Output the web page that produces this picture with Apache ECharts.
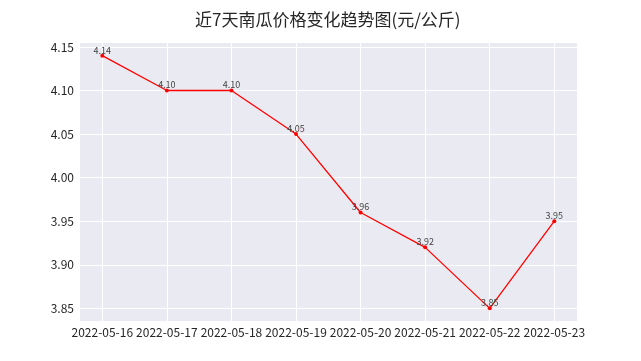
<!DOCTYPE html>
<html><head><meta charset="utf-8">
<script src="https://cdn.jsdelivr.net/npm/echarts@6/dist/echarts.min.js"></script>
<style>html,body{margin:0;padding:0;background:#fff}#c{width:641px;height:361px}</style>
</head><body><div id="c"></div>
<script>
const dates = ['2022-05-16','2022-05-17','2022-05-18','2022-05-19','2022-05-20','2022-05-21','2022-05-22','2022-05-23'];
const prices = [4.14, 4.10, 4.10, 4.05, 3.96, 3.92, 3.85, 3.95];
const yTickMin = 3.85, yTickMax = 4.15, yTickStep = 0.05;
const titleText = '近7天南瓜价格变化趋势图(元/公斤)';

const dMin = Math.min(...prices), dMax = Math.max(...prices);
const pad = (dMax - dMin) * 0.05;
const font = '"Noto Sans CJK SC", sans-serif';
const chart = echarts.init(document.getElementById('c'), null, {renderer:'canvas'});
chart.setOption({
  animation:false,
  backgroundColor:'#ffffff',
  title:{text:titleText, left:190, top:6,
    textStyle:{fontFamily:font, fontSize:17, fontWeight:'normal', color:'#262626'}},
  grid:[
    {left:80, right:64, top:43, bottom:40, show:true, backgroundColor:'#EAEAF2', borderWidth:0, z:0},
    {left:102.3, right:86.7, top:43, bottom:40},
    {left:80, right:64, top:47, bottom:52.7}
  ],
  xAxis:[
    {type:'value', gridIndex:0, show:false, min:0, max:1},
    {type:'category', gridIndex:1, data:dates, boundaryGap:false,
      axisLine:{show:false}, axisTick:{show:false},
      axisLabel:{fontFamily:font, fontSize:12, color:'#262626', margin:5, interval:0},
      splitLine:{show:true, lineStyle:{color:'#ffffff', width:1}}},
    {type:'value', gridIndex:2, show:false, min:0, max:1}
  ],
  yAxis:[
    {type:'value', gridIndex:0, show:false, min:0, max:1},
    {type:'value', gridIndex:1, show:false, min:dMin - pad, max:dMax + pad},
    {type:'value', gridIndex:2, min:yTickMin, max:yTickMax, interval:yTickStep,
      axisLine:{show:false}, axisTick:{show:false},
      axisLabel:{fontFamily:font, fontSize:12, color:'#262626', margin:6,
        formatter:v => v.toFixed(2)},
      splitLine:{show:true, lineStyle:{color:'#ffffff', width:1}}}
  ],
  series:[{
    type:'line', xAxisIndex:1, yAxisIndex:1, data:prices,
    symbol:'circle', symbolSize:4, showSymbol:true,
    itemStyle:{color:'#ff0000'}, lineStyle:{color:'#ff0000', width:1.3},
    label:{show:true, position:'top', distance:-1, fontFamily:font, fontSize:9, color:'#444444',
      formatter:p => p.value.toFixed(2)},
    z:5
  }]
});
</script></body></html>
